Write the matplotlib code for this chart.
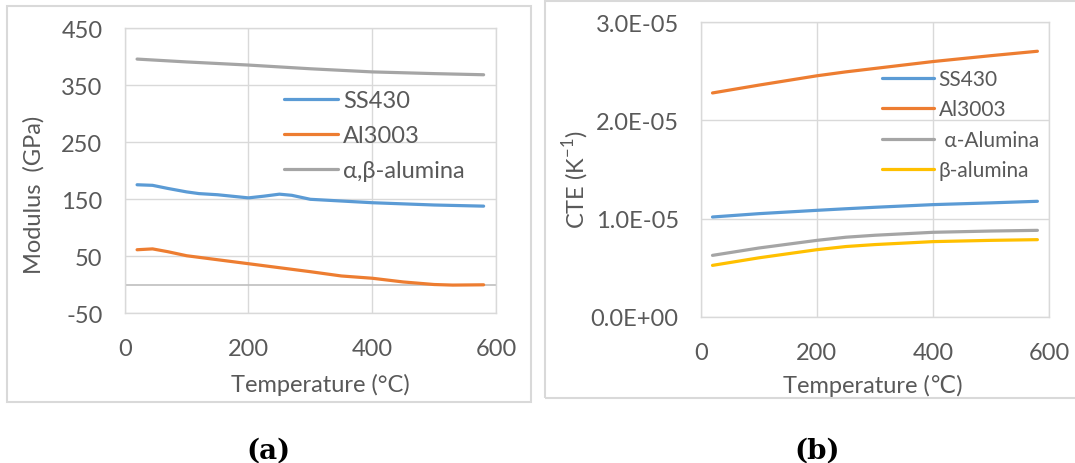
import matplotlib
matplotlib.use('Agg')
import matplotlib.pyplot as plt
from matplotlib.patches import Rectangle

plt.rcParams['font.family'] = ['Lato', 'DejaVu Sans']
plt.rcParams['axes.unicode_minus'] = False

# (a) modulus vs temperature
temp_ss = [20, 45, 70, 100, 120, 150, 200, 225, 250, 270, 300, 350, 400, 450, 500, 580]
mod_ss430 = [175.5, 174.5, 169, 163, 160, 158, 152.5, 155.5, 159, 157, 150, 147, 144, 142, 140, 138]
temp_al = [20, 45, 70, 100, 150, 200, 250, 300, 350, 400, 450, 500, 530, 580]
mod_al3003 = [61.5, 63, 58, 51, 44, 37, 30, 23, 15.5, 11.5, 5, 0.5, -0.5, 0]
temp_alu = [20, 100, 200, 300, 400, 500, 580]
mod_alumina = [396, 391, 385.5, 379, 373.5, 370.5, 368.5]

# (b) CTE vs temperature
temp_cte = [20, 100, 200, 250, 300, 400, 500, 580]
cte_ss430 = [1.016e-5, 1.05e-5, 1.084e-5, 1.10e-5, 1.115e-5, 1.142e-5, 1.16e-5, 1.176e-5]
cte_al3003 = [2.28e-5, 2.36e-5, 2.455e-5, 2.495e-5, 2.53e-5, 2.60e-5, 2.66e-5, 2.705e-5]
cte_alpha = [0.625e-5, 0.70e-5, 0.778e-5, 0.81e-5, 0.83e-5, 0.86e-5, 0.873e-5, 0.88e-5]
cte_beta = [0.523e-5, 0.60e-5, 0.683e-5, 0.715e-5, 0.735e-5, 0.765e-5, 0.778e-5, 0.785e-5]

blue, orange, gray, yellow = '#5B9BD5', '#ED7D31', '#A5A5A5', '#FFC000'
txt = '#595959'
grid = '#d9d9d9'
W, H = 1075, 464
FS = 17

fig = plt.figure(figsize=(10.75, 4.64), dpi=100)

def px_axes(x0, y0, x1, y1):
    return fig.add_axes([x0 / W, 1 - y1 / H, (x1 - x0) / W, (y1 - y0) / H])

def style(ax):
    ax.grid(True, color=grid, lw=1)
    ax.set_axisbelow(True)
    for s in ax.spines.values():
        s.set_color(grid)
        s.set_linewidth(1)
    ax.tick_params(length=0, colors=txt, labelsize=FS)
    ax.set_xlim(0, 600)
    ax.set_xticks([0, 200, 400, 600])

# outer chart boxes
fig.add_artist(Rectangle((6.7 / W, 1 - 403 / H), 524 / W, 396.3 / H, transform=fig.transFigure,
                         fill=False, ec=grid, lw=1.5))
fig.add_artist(Rectangle((545 / W, 1 - 399 / H), 540 / W, 397.3 / H, transform=fig.transFigure,
                         fill=False, ec=grid, lw=1.5))

# panel (a)
ax1 = px_axes(124.7, 29.3, 496, 314.3)
style(ax1)
ax1.set_ylim(-50, 450)
ax1.set_yticks(range(-50, 451, 100))
ax1.axhline(0, color='#bfbfbf', lw=1.2, zorder=1)
ax1.plot(temp_ss, mod_ss430, color=blue, lw=2.3, label='SS430', solid_capstyle='round')
ax1.plot(temp_al, mod_al3003, color=orange, lw=2.3, label='Al3003', solid_capstyle='round')
ax1.plot(temp_alu, mod_alumina, color=gray, lw=2.3, label='α,β-alumina', solid_capstyle='round')
ax1.tick_params(axis='y', pad=16)
ax1.tick_params(axis='x', pad=18)
ax1.set_ylabel('Modulus  (GPa)', fontsize=FS, color=txt)
ax1.yaxis.set_label_coords(-0.215, 0.42)
ax1.set_xlabel('Temperature (°C)', fontsize=FS, color=txt)
ax1.xaxis.set_label_coords(0.526, -0.21)
ax1.legend(loc='upper left', bbox_to_anchor=(283.7 / W, 1 - 91 / H), bbox_transform=fig.transFigure,
           frameon=False, fontsize=FS, handlelength=2.3, handletextpad=0.2, labelspacing=0.6,
           borderpad=0, borderaxespad=0, labelcolor=txt)

# panel (b)
ax2 = px_axes(700.9, 23.3, 1049, 317.7)
style(ax2)
ax2.set_ylim(0, 3e-5)
ax2.set_yticks([0, 1e-5, 2e-5, 3e-5])
ax2.set_yticklabels(['{:.1E}'.format(v) for v in [0, 1e-5, 2e-5, 3e-5]])
ax2.plot(temp_cte, cte_ss430, color=blue, lw=2.3, label='SS430', solid_capstyle='round')
ax2.plot(temp_cte, cte_al3003, color=orange, lw=2.3, label='Al3003', solid_capstyle='round')
ax2.plot(temp_cte, cte_alpha, color=gray, lw=2.3, label=' α-Alumina', solid_capstyle='round')
ax2.plot(temp_cte, cte_beta, color=yellow, lw=2.3, label='β-alumina', solid_capstyle='round')
ax2.tick_params(axis='y', pad=16)
ax2.tick_params(axis='x', pad=18)
ax2.set_ylabel('CTE (K$^{\\mathregular{-1}}$)', fontsize=FS, color=txt)
ax2.yaxis.set_label_coords(-0.315, 0.47)
ax2.set_xlabel('Temperature (℃)', fontsize=FS, color=txt)
ax2.xaxis.set_label_coords(0.494, -0.195)
ax2.legend(loc='upper left', bbox_to_anchor=(882.3 / W, 1 - 70 / H), bbox_transform=fig.transFigure,
           frameon=False, fontsize=15, handlelength=2.5, handletextpad=0.2, labelspacing=0.5,
           borderpad=0, borderaxespad=0, labelcolor=txt)

# panel captions
fig.text(268 / W, 1 - 451 / H, '(a)', ha='center', va='center', fontsize=20, fontweight='bold',
         family='DejaVu Serif')
fig.text(816.7 / W, 1 - 451 / H, '(b)', ha='center', va='center', fontsize=20, fontweight='bold',
         family='DejaVu Serif')

fig.savefig('out.png', dpi=100)
